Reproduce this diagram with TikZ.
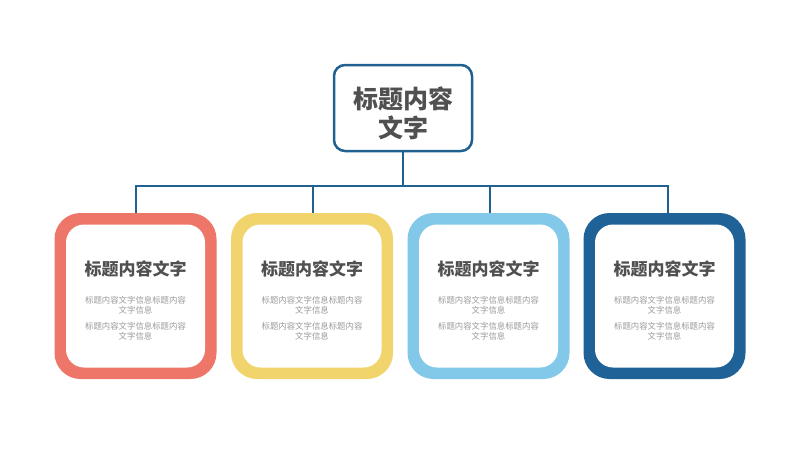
\documentclass[tikz,border=0pt]{standalone}
\usepackage{fontspec}
\setmainfont{Noto Sans CJK SC}
\newfontfamily\cjk{Noto Sans CJK SC}
\definecolor{linec}{HTML}{20618F}
\definecolor{cred}{HTML}{EE7668}
\definecolor{cyel}{HTML}{F2D46C}
\definecolor{clbl}{HTML}{82C9E9}
\definecolor{cdbl}{HTML}{1E6298}
\definecolor{ttl}{HTML}{505050}
\definecolor{bdy}{HTML}{9A9A9A}
\tikzset{
  topbox/.style={draw=linec, line width=2.5pt, fill=white, rounded corners=11pt, minimum width=138pt, minimum height=86pt, inner sep=0pt},
  outerbox/.style={rounded corners=26pt, minimum width=162pt, minimum height=166pt, inner sep=0pt},
  innerbox/.style={fill=white, rounded corners=18pt, minimum width=139pt, minimum height=143pt, inner sep=0pt},
  conn/.style={draw=linec, line width=2pt},
  ttlt/.style={text=ttl, font=\cjk\bfseries\fontsize{17}{20}\selectfont, inner sep=0pt},
  bodyt/.style={text=bdy, font=\cjk\fontsize{8.4}{10}\selectfont, align=center, inner sep=0pt},
}
\begin{document}
\begin{tikzpicture}[x=1pt,y=-1pt]
\useasboundingbox (0,0) rectangle (800,450);
\coordinate (bus) at (403,186);
\node[topbox] (top) at (403,108) {};
\node[text=ttl, font=\cjk\bfseries\fontsize{25}{29}\selectfont, align=center, inner sep=0pt] (toptext) at (403,113) {标题内容\\文字};
\foreach \i/\x/\c in {1/135.5/cred, 2/312/cyel, 3/488.5/clbl, 4/664.5/cdbl}{
  \node[outerbox, fill=\c] (b\i) at (\x,296) {};
  \node[innerbox] (in\i) at (\x,296) {};
  \node[ttlt] (t\i) at (\x,269) {标题内容文字};
  \node[bodyt] (p\i) at (\x,305) {标题内容文字信息标题内容\\文字信息};
  \node[bodyt] (q\i) at (\x,331) {标题内容文字信息标题内容\\文字信息};
}
\coordinate (d1) at ([xshift=0pt]b1.north);
\coordinate (d2) at ([xshift=1pt]b2.north);
\coordinate (d3) at ([xshift=1.5pt]b3.north);
\coordinate (d4) at ([xshift=3.5pt]b4.north);
\draw[conn] (top.south) -- (bus);
\draw[conn] (d1) -- (d1 |- bus) -- (d4 |- bus) -- (d4);
\draw[conn] (d2) -- (d2 |- bus);
\draw[conn] (d3) -- (d3 |- bus);
\end{tikzpicture}
\end{document}
